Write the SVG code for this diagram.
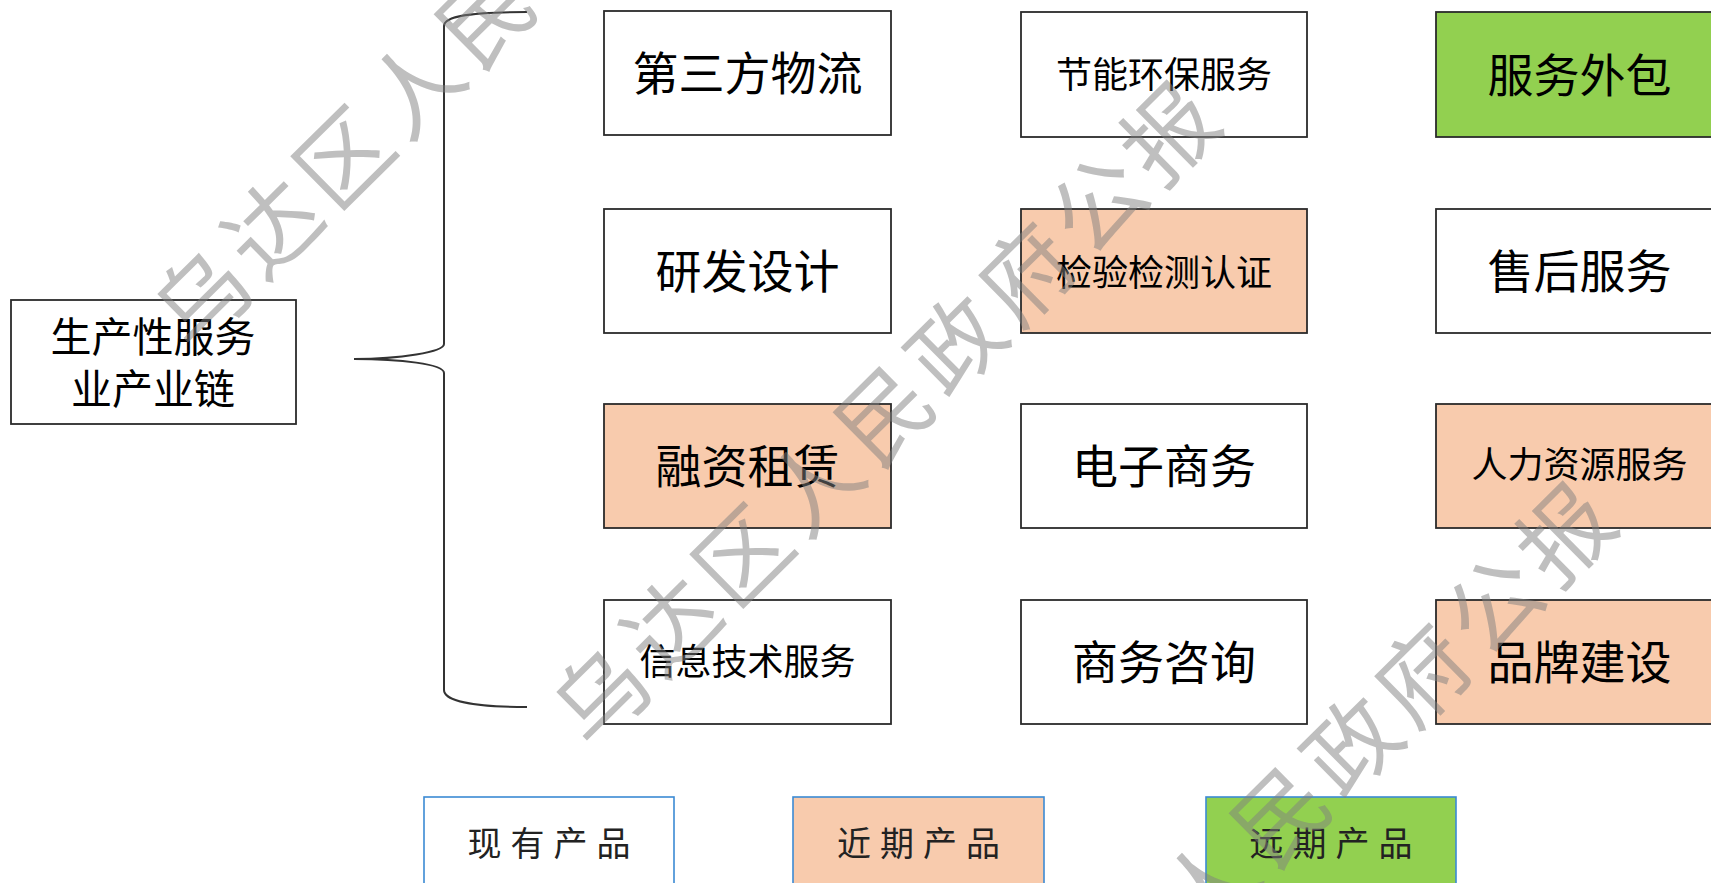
<svg xmlns="http://www.w3.org/2000/svg" width="1711" height="883" viewBox="0 0 1711 883">
<style>
.box{stroke:#2b2b2b;stroke-width:1.8}
.w{fill:#ffffff}
.o{fill:#f8cbad}
.g{fill:#92d050}
.t{font-family:"Noto Sans CJK SC","Noto Sans",sans-serif;fill:#000;text-anchor:middle}
.big{font-size:46px}
.mid{font-size:36px}
.lg{stroke:#3b8ad4;stroke-width:1.6}
.lt{font-family:"Noto Sans CJK SC",serif;font-size:34px;fill:#222;text-anchor:middle;letter-spacing:9px}
.wm{font-family:"Noto Sans CJK SC",sans-serif;font-size:92px;fill:#808080;fill-opacity:0.5;text-anchor:middle;letter-spacing:8px}
.br{fill:none;stroke:#333;stroke-width:2}
</style>
<rect width="1711" height="883" fill="#fff"/>

<g id="root">
<rect class="box w" x="11" y="300" width="285" height="124"/>
<text class="t" style="font-size:41px" x="153" y="352">生产性服务</text>
<text class="t" style="font-size:41px" x="153" y="404">业产业链</text>
</g>

<g id="connectors">
<path class="br" d="M527,12 C470,12 444,16 444,26 L444,344 C444,352 400,359 354,359 C400,359 444,364 444,373 L444,690 C444,700 470,707 527,707"/>
</g>

<g id="n-wuliu"><rect class="box w" x="604" y="11" width="287" height="124"/><text class="t big" x="747.5" y="90">第三方物流</text></g>
<g id="n-jieneng"><rect class="box w" x="1021" y="12" width="286" height="125"/><text class="t mid" x="1164" y="88">节能环保服务</text></g>
<g id="n-waibao"><rect class="box g" x="1436" y="12" width="287" height="125"/><text class="t big" x="1579.5" y="92">服务外包</text></g>

<g id="n-yanfa"><rect class="box w" x="604" y="209" width="287" height="124"/><text class="t big" x="747.5" y="288">研发设计</text></g>
<g id="n-jianyan"><rect class="box o" x="1021" y="209" width="286" height="124"/><text class="t mid" x="1164" y="286">检验检测认证</text></g>
<g id="n-shouhou"><rect class="box w" x="1436" y="209" width="287" height="124"/><text class="t big" x="1579.5" y="288">售后服务</text></g>

<g id="n-rongzi"><rect class="box o" x="604" y="404" width="287" height="124"/><text class="t big" x="747.5" y="483">融资租赁</text></g>
<g id="n-dianzi"><rect class="box w" x="1021" y="404" width="286" height="124"/><text class="t big" x="1164" y="483">电子商务</text></g>
<g id="n-renli"><rect class="box o" x="1436" y="404" width="287" height="124"/><text class="t mid" x="1579.5" y="478">人力资源服务</text></g>

<g id="n-xinxi"><rect class="box w" x="604" y="600" width="287" height="124"/><text class="t mid" x="747.5" y="675">信息技术服务</text></g>
<g id="n-zixun"><rect class="box w" x="1021" y="600" width="286" height="124"/><text class="t big" x="1164" y="679">商务咨询</text></g>
<g id="n-pinpai"><rect class="box o" x="1436" y="600" width="287" height="124"/><text class="t big" x="1579.5" y="679">品牌建设</text></g>

<g id="legend-existing"><rect class="lg w" x="424" y="797" width="250" height="110"/><text class="lt" x="553.5" y="856">现有产品</text></g>
<g id="legend-near"><rect class="lg o" x="793" y="797" width="251" height="110"/><text class="lt" x="923" y="856">近期产品</text></g>
<g id="legend-far"><rect class="lg g" x="1206" y="797" width="250" height="110"/><text class="lt" x="1335.5" y="856">远期产品</text></g>

<g id="watermark">
<text class="wm" transform="translate(485,16) rotate(-44.7)" x="4" y="35">乌达区人民政府公报</text>
<text class="wm" transform="translate(884,414) rotate(-44.7)" x="4" y="35">乌达区人民政府公报</text>
<text class="wm" transform="translate(1280,815) rotate(-44.7)" x="4" y="35">乌达区人民政府公报</text>
</g>
</svg>
